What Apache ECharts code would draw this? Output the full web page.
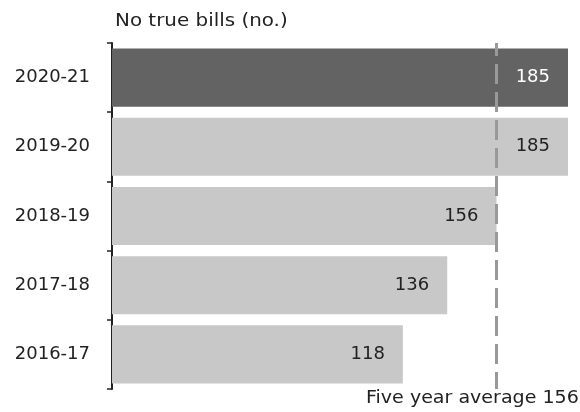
<!DOCTYPE html>
<html>
<head>
<meta charset="utf-8">
<script src="https://cdn.jsdelivr.net/npm/echarts@6/dist/echarts.min.js"></script>
<style>
  html, body { margin: 0; padding: 0; background: #fff; }
  #chart { width: 580px; height: 412px; }
</style>
</head>
<body>
<div id="chart"></div>
<script>
// Financial years, bottom to top
const years = ['2016-17', '2017-18', '2018-19', '2019-20', '2020-21'];
// Number of no true bills per year
const noTrueBills = [118, 136, 156, 185, 185];
// Five-year average
const fiveYearAverage = 156;
const latestYear = '2020-21';

const FONT = 'DejaVu Sans';
const TEXT = '#222222';

const chart = echarts.init(document.getElementById('chart'), null, { renderer: 'canvas' });

const barData = noTrueBills.map((v, i) => {
  const latest = years[i] === latestYear;
  return {
    value: v,
    itemStyle: { color: latest ? '#636363' : '#c8c8c9' },
    label: { color: latest ? '#ffffff' : TEXT }
  };
});

chart.setOption({
  animation: false,
  backgroundColor: '#ffffff',
  grid: { left: 112, right: 12, top: 43, bottom: 23, containLabel: false },
  xAxis: {
    type: 'value',
    min: 0,
    max: 185,
    show: false
  },
  yAxis: {
    type: 'category',
    data: years,
    axisLine: { show: true, lineStyle: { color: TEXT, width: 2 } },
    axisTick: { show: true, length: 5, lineStyle: { color: TEXT, width: 1.5 } },
    axisLabel: { color: TEXT, fontFamily: FONT, fontSize: 18, margin: 22 },
    splitLine: { show: false }
  },
  graphic: [
    {
      type: 'text',
      x: 115,
      y: 13,
      scaleX: 1.17,
      style: { text: 'No true bills (no.)', fontFamily: FONT, fontSize: 17, fill: TEXT }
    },
    {
      type: 'text',
      x: 366,
      y: 390,
      scaleX: 1.12,
      style: { text: 'Five year average ' + fiveYearAverage, fontFamily: FONT, fontSize: 17, fill: TEXT }
    }
  ],
  series: [
    {
      type: 'bar',
      data: barData,
      barCategoryGap: '16%',
      z: 2,
      label: {
        show: true,
        position: 'insideRight',
        distance: 18,
        fontFamily: FONT,
        fontSize: 18
      },
      markLine: {
        silent: true,
        symbol: 'none',
        z: 5,
        label: { show: false },
        lineStyle: { color: '#999999', width: 3, type: [20, 8], dashOffset: 3 },
        data: [{ xAxis: fiveYearAverage }]
      }
    }
  ]
});
</script>
</body>
</html>
